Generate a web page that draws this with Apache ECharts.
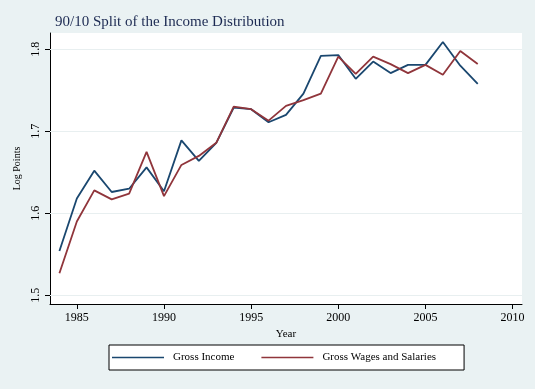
<!DOCTYPE html>
<html>
<head>
<meta charset="utf-8">
<script src="https://cdn.jsdelivr.net/npm/echarts@6/dist/echarts.min.js"></script>
<style>html,body{margin:0;padding:0;background:#EAF2F3;}#c{width:535px;height:389px;}</style>
</head>
<body>
<div id="c"></div>
<script>
const years = [1984,1985,1986,1987,1988,1989,1990,1991,1992,1993,1994,1995,1996,1997,1998,1999,2000,2001,2002,2003,2004,2005,2006,2007,2008];
const grossIncome = [1.554,1.618,1.652,1.626,1.630,1.656,1.627,1.689,1.664,1.686,1.729,1.727,1.711,1.720,1.746,1.792,1.793,1.764,1.785,1.771,1.781,1.781,1.809,1.780,1.758];
const grossWages = [1.527,1.590,1.628,1.617,1.624,1.675,1.621,1.659,1.670,1.686,1.730,1.727,1.713,1.731,1.738,1.746,1.791,1.770,1.791,1.782,1.771,1.781,1.769,1.798,1.782];
const xTicks = [1985,1990,1995,2000,2005,2010];
const yTicks = [1.5,1.6,1.7,1.8];
const seriesNames = ['Gross Income','Gross Wages and Salaries'];
const titleText = '90/10 Split of the Income Distribution';

const serif = '"Liberation Serif","DejaVu Serif",serif';
const chart = echarts.init(document.getElementById('c'));
chart.setOption({
  backgroundColor: '#EAF2F3',
  animation: false,
  title: {
    text: titleText, left: 50, top: 10,
    textStyle: {fontFamily: serif, fontSize: 15, fontWeight: 'normal', color: '#1c2a52'}
  },
  legend: {
    left: 109, top: 345,
    data: seriesNames,
    icon: 'rect', itemWidth: 52, itemHeight: 1.5, itemGap: 27,
    padding: [7, 28, 7, 3],
    borderColor: '#000', borderWidth: 1, backgroundColor: '#fff',
    textStyle: {fontFamily: serif, fontSize: 11, color: '#000', padding: [0,0,0,4]}
  },
  grid: {left: 50, top: 33, right: 13, bottom: 85, show: true, backgroundColor: '#fff', borderWidth: 0},
  xAxis: {
    type: 'value', min: 1983.46, max: 2010.54,
    name: 'Year', nameLocation: 'middle', nameGap: 24,
    nameTextStyle: {fontFamily: serif, fontSize: 11, color: '#000'},
    axisLine: {show: true, onZero: false, lineStyle: {color: '#000', width: 1}},
    axisTick: {show: true, length: 5, customValues: xTicks, lineStyle: {color: '#000'}},
    axisLabel: {customValues: xTicks, fontFamily: serif, fontSize: 12, color: '#000', margin: 8,
      formatter: v => String(v)},
    splitLine: {show: false}
  },
  yAxis: {
    type: 'value', min: 1.4894, max: 1.8199,
    name: 'Log Points', nameLocation: 'middle', nameGap: 25,
    nameTextStyle: {fontFamily: serif, fontSize: 10, color: '#000'},
    axisLine: {show: true, lineStyle: {color: '#000', width: 1}},
    axisTick: {show: true, length: 5, customValues: yTicks, lineStyle: {color: '#000'}},
    axisLabel: {customValues: yTicks, rotate: 90, fontFamily: serif, fontSize: 12, color: '#000', margin: 8,
      formatter: v => v.toFixed(1)},
    splitLine: {show: false}
  },
  series: [
    {
      name: seriesNames[0], type: 'line', showSymbol: false, symbol: 'none',
      data: years.map((y,i) => [y, grossIncome[i]]),
      lineStyle: {color: '#1a476f', width: 1.8}, itemStyle: {color: '#1a476f'},
      markLine: {
        silent: true, symbol: 'none', label: {show: false}, z: 1,
        lineStyle: {color: '#e8eff0', type: 'solid', width: 1},
        data: yTicks.map(v => ({yAxis: v}))
      }
    },
    {
      name: seriesNames[1], type: 'line', showSymbol: false, symbol: 'none',
      data: years.map((y,i) => [y, grossWages[i]]),
      lineStyle: {color: '#90353b', width: 1.8}, itemStyle: {color: '#90353b'}
    }
  ]
});
</script>
</body>
</html>
